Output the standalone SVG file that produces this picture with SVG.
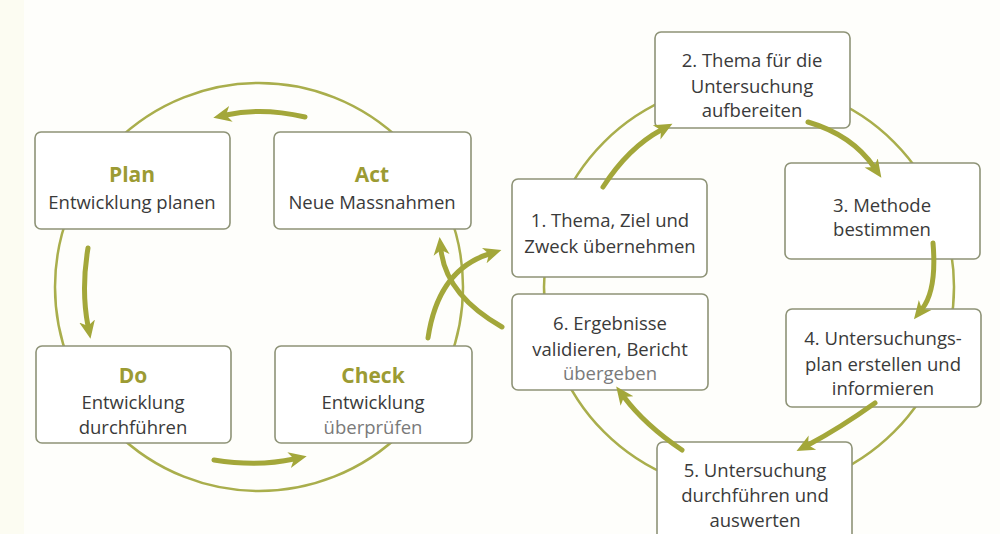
<svg xmlns="http://www.w3.org/2000/svg" width="1000" height="534" viewBox="0 0 1000 534">
<style>
.ring{fill:none;stroke:#a9ae4c;stroke-width:2.5}
.box{fill:#ffffff;stroke:#8e9377;stroke-width:1.6}
.arr{fill:none;stroke:#a3a73a;stroke-width:5;stroke-linecap:round}
.t{font-family:"Open Sans","Liberation Sans",sans-serif;font-size:18.5px;fill:#3a3a3a;text-anchor:middle}
.h{font-family:"Open Sans","Liberation Sans",sans-serif;font-size:21px;font-weight:bold;fill:#9c9b33;text-anchor:middle}
.lt{fill:#7a7a7a}
</style>
<defs>
<marker id="ah" markerUnits="userSpaceOnUse" markerWidth="20" markerHeight="18" refX="5" refY="9" orient="auto">
<path d="M0,1 L18,9 L0,17 L5,9 z" fill="#a3a73a"/>
</marker>
</defs>
<rect x="0" y="0" width="1000" height="534" fill="#fefefb"/>
<rect x="0" y="0" width="24" height="534" fill="#fcfcf2"/>
<g id="rings">
<circle class="ring" cx="259" cy="287" r="204"/>
<circle class="ring" cx="749" cy="287" r="205"/>
</g>
<g id="plan">
<rect class="box" x="35" y="132" width="195" height="97" rx="6"/>
<text class="h" x="132" y="182">Plan</text>
<text class="t" x="132" y="209">Entwicklung planen</text>
</g>
<g id="act">
<rect class="box" x="274" y="132" width="197" height="97" rx="6"/>
<text class="h" x="372" y="182">Act</text>
<text class="t" x="372" y="209">Neue Massnahmen</text>
</g>
<g id="do">
<rect class="box" x="36" y="346" width="195" height="97" rx="6"/>
<text class="h" x="133" y="383">Do</text>
<text class="t" x="133" y="409">Entwicklung</text>
<text class="t" x="133" y="434">durchführen</text>
</g>
<g id="check">
<rect class="box" x="275" y="346" width="197" height="97" rx="6"/>
<text class="h" x="373" y="383">Check</text>
<text class="t" x="373" y="409">Entwicklung</text>
<text class="t lt" x="373" y="434">überprüfen</text>
</g>
<g id="step1">
<rect class="box" x="512" y="179" width="195" height="98" rx="6"/>
<text class="t" x="610" y="227">1. Thema, Ziel und</text>
<text class="t" x="610" y="253">Zweck übernehmen</text>
</g>
<g id="step2">
<rect class="box" x="655" y="32" width="195" height="96" rx="6"/>
<text class="t" x="752" y="67">2. Thema für die</text>
<text class="t" x="752" y="93">Untersuchung</text>
<text class="t" x="752" y="117">aufbereiten</text>
</g>
<g id="step3">
<rect class="box" x="785" y="163" width="195" height="96" rx="6"/>
<text class="t" x="882" y="212">3. Methode</text>
<text class="t" x="882" y="236">bestimmen</text>
</g>
<g id="step4">
<rect class="box" x="786" y="309" width="195" height="98" rx="6"/>
<text class="t" x="883" y="345">4. Untersuchungs-</text>
<text class="t" x="883" y="371">plan erstellen und</text>
<text class="t" x="883" y="395">informieren</text>
</g>
<g id="step5">
<rect class="box" x="657" y="442" width="195" height="98" rx="6"/>
<text class="t" x="755" y="477">5. Untersuchung</text>
<text class="t" x="755" y="502">durchführen und</text>
<text class="t" x="755" y="527">auswerten</text>
</g>
<g id="step6">
<rect class="box" x="512" y="294" width="196" height="96" rx="6"/>
<text class="t" x="610" y="330">6. Ergebnisse</text>
<text class="t" x="610" y="356">validieren, Bericht</text>
<text class="t lt" x="610" y="380">übergeben</text>
</g>
<g id="connectors">
<path class="arr" d="M305,117 Q262,107 226,115" marker-end="url(#ah)"/>
<path class="arr" d="M88,248 Q81,290 88,326" marker-end="url(#ah)"/>
<path class="arr" d="M214,460 Q258,467 294,459" marker-end="url(#ah)"/>
<path class="arr" d="M428,338 Q438,270 489,254" marker-end="url(#ah)"/>
<path class="arr" d="M502,327 Q446,295 441,250" marker-end="url(#ah)"/>
<path class="arr" d="M603,187 Q628,148 661,130" marker-end="url(#ah)"/>
<path class="arr" d="M808,122 Q852,135 874,167" marker-end="url(#ah)"/>
<path class="arr" d="M933,243 Q937,290 922,309" marker-end="url(#ah)"/>
<path class="arr" d="M875,403 Q840,428 808,445" marker-end="url(#ah)"/>
<path class="arr" d="M682,450 Q645,425 624,397" marker-end="url(#ah)"/>
</g>
</svg>
